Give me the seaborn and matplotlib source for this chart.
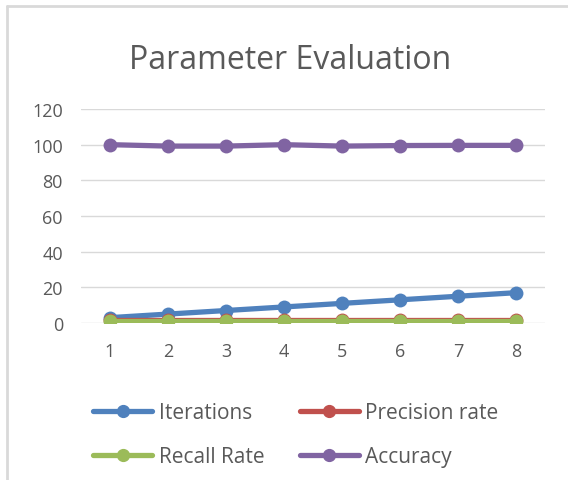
import pandas as pd
import matplotlib.pyplot as plt
import seaborn as sns
from matplotlib.lines import Line2D

# values
steps = [1, 2, 3, 4, 5, 6, 7, 8]
iterations = [3, 5, 7, 9, 11, 13, 15, 17]
precision = [1.5, 1.5, 1.5, 1.5, 1.5, 1.5, 1.5, 1.5]
recall = [0.9, 0.9, 0.9, 0.9, 0.9, 0.9, 0.9, 0.9]
accuracy = [100, 99.2, 99.2, 100, 99.2, 99.5, 99.6, 99.6]

series = ['Iterations', 'Precision rate', 'Recall Rate', 'Accuracy']
colors = ['#4F81BD', '#C0504D', '#9BBB59', '#8064A2']

df = pd.DataFrame({'Step': steps, 'Iterations': iterations, 'Precision rate': precision,
                   'Recall Rate': recall, 'Accuracy': accuracy})
long = df.melt(id_vars='Step', var_name='Series', value_name='Value')

sns.set_style('white')
plt.rcParams['font.family'] = ['Open Sans', 'DejaVu Sans']

fig = plt.figure(figsize=(5.68, 4.81), dpi=100)
ax = fig.add_axes([81 / 568, 1 - 324 / 481, 464 / 568, 214 / 481])

sns.lineplot(data=long, x='Step', y='Value', hue='Series', hue_order=series,
             palette=colors, marker='o', markersize=10, markeredgewidth=0,
             linewidth=3.8, legend=False, ax=ax)

ax.set_xlim(0.5, 8.5)
ax.set_ylim(0, 120)
ax.set_xticks(steps)
ax.set_yticks(range(0, 121, 20))
ax.yaxis.grid(True, color='#d9d9d9', linewidth=1)
ax.set_axisbelow(True)
for s in ax.spines.values():
    s.set_visible(False)
ax.tick_params(axis='both', length=0, labelsize=13, labelcolor='#595959')
ax.tick_params(axis='y', pad=13)
ax.tick_params(axis='x', pad=14)
ax.set_xlabel('')
ax.set_ylabel('')

fig.text(290 / 568, 1 - 69 / 481, 'Parameter Evaluation', ha='center', va='baseline',
         fontsize=23, color='#595959')

# legend filled row by row like the original
order = [0, 2, 1, 3]
handles = [Line2D([0], [0], color=colors[i], linewidth=3.8, marker='o', markersize=8.5)
           for i in order]
fig.legend(handles, [series[i] for i in order], ncol=2, loc='upper left',
           bbox_to_anchor=(93 / 568, 1 - 403 / 481), borderaxespad=0, borderpad=0,
           frameon=False, fontsize=15, handlelength=2.85, columnspacing=1.7,
           labelspacing=1.1, labelcolor='#595959', handletextpad=0.3)

# chart frame (top and left edges visible)
fig.add_artist(Line2D([7 / 568, 1], [1 - 7 / 481, 1 - 7 / 481], color='#d9d9d9', linewidth=2))
fig.add_artist(Line2D([7 / 568, 7 / 568], [0, 1 - 7 / 481], color='#d9d9d9', linewidth=2))

fig.savefig('out.png', dpi=100)
